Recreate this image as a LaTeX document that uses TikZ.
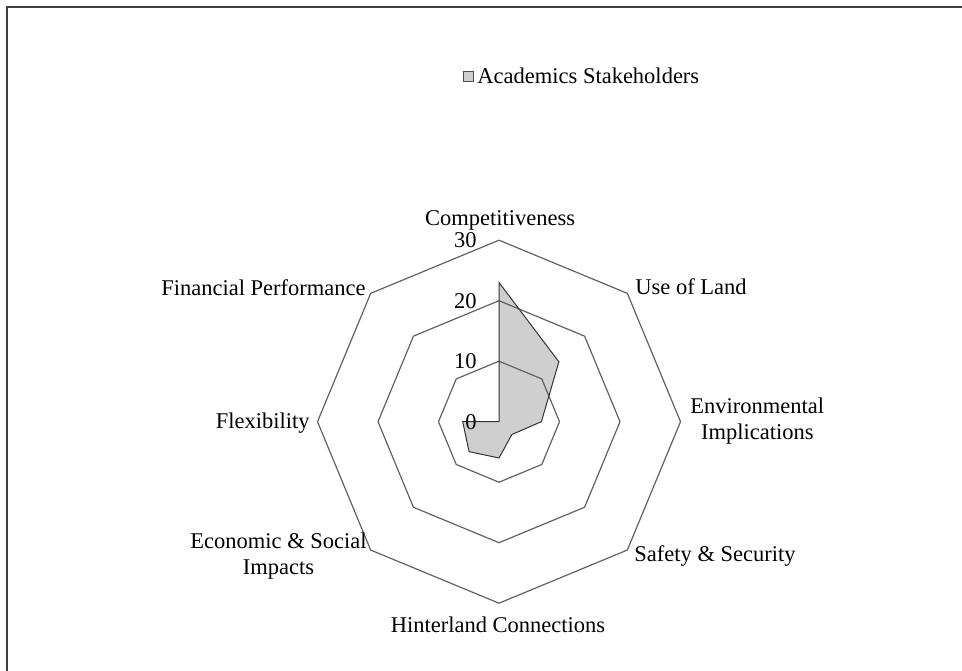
\documentclass[tikz,border=0pt]{standalone}
\usepackage{fontspec}
\setmainfont{Liberation Serif}
\begin{document}
\begin{tikzpicture}[x=0.5pt,y=0.5pt,
  font=\fontsize{11.25}{13}\selectfont,
  ring/.style={draw=black!62, line width=0.6pt},
  seriesfill/.style={fill=black!19},
  seriesline/.style={draw=black!80, line width=0.5pt, line join=miter},
  cat/.style={inner sep=0pt, align=center},
  tick/.style={inner sep=0pt, anchor=east}]
\useasboundingbox (0,0) rectangle (962,670);
\coordinate (frameA) at (7,-30);
\coordinate (frameB) at (7,663);
\coordinate (frameC) at (990,663);
\draw[black!75, line width=0.9pt] (frameA) -- (frameB) -- (frameC);
\coordinate (C) at (499,248.3);
% series fill
\fill[seriesfill, shift={(C)}] (90:139.2) -- (45:84.7) -- (0:42.35) -- (-45:18.15) -- (-90:36.3) -- (-135:42.35) -- (180:36.3) -- (0,0) -- cycle;
% rings
\foreach \r in {60.5,121,181.5}
  \draw[ring, shift={(C)}] (90:\r) \foreach \a in {45,0,-45,-90,-135,180,135}{ -- (\a:\r)} -- cycle;
% series outline
\draw[seriesline, shift={(C)}] (90:139.2) -- (45:84.7) -- (0:42.35) -- (-45:18.15) -- (-90:36.3) -- (-135:42.35) -- (180:36.3) -- (0,0) -- cycle;
% tick labels
\node[tick] (t0) at (477,248.3) {0};
\node[tick] (t10) at (477,308.8) {10};
\node[tick] (t20) at (477,369.3) {20};
\node[tick] (t30) at (477,429.8) {30};
% category labels
\node[cat] (comp) at (500,450) {Competitiveness};
\node[cat, anchor=west] (land) at (635,383) {Use of Land};
\node[cat, anchor=west] (env) at (690,248.5) {Environmental\\Implications};
\node[cat, anchor=west] (safe) at (634,114) {Safety \& Security};
\node[cat] (hint) at (498,45) {Hinterland Connections};
\node[cat, anchor=east] (econ) at (367,114) {Economic \& Social\\Impacts};
\node[cat, anchor=east] (flex) at (310,247) {Flexibility};
\node[cat, anchor=east] (fin) at (366,382) {Financial Performance};
% legend
\node[draw=black!70, fill=black!19, line width=0.4pt, minimum size=5pt, inner sep=0pt] (legbox) at (468,594) {};
\node[cat, anchor=west] (legtext) at (477,594) {Academics Stakeholders};
\end{tikzpicture}
\end{document}
